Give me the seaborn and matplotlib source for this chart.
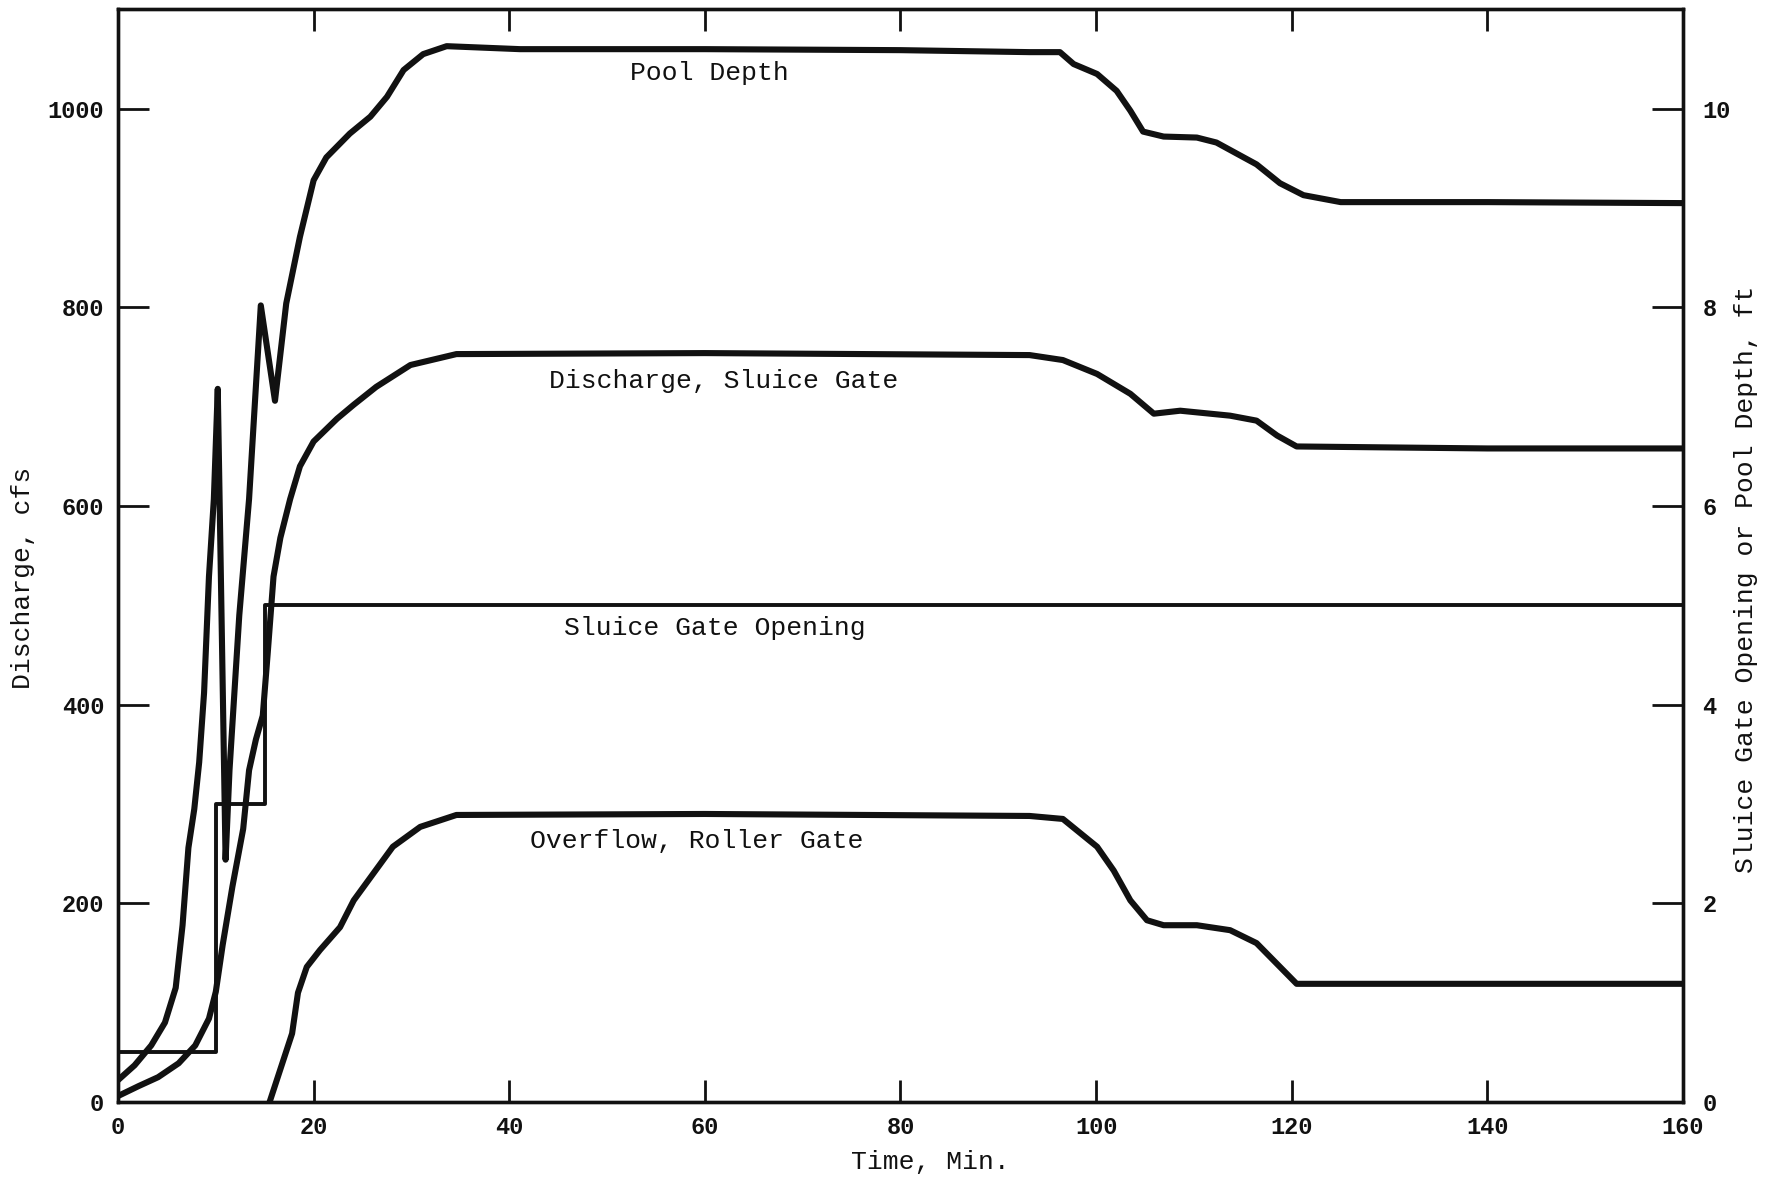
import matplotlib
matplotlib.use("Agg")
import matplotlib.pyplot as plt
import seaborn as sns
import pandas as pd

# ---- data ----
# Pool depth, ft (right axis)
pool_t = [0, 1.7, 3.4, 4.8, 5.9, 6.6, 7.2, 7.8, 8.3, 8.8, 9.3, 9.8, 10.2, 11.0, 11.4,
          12.4, 13.4, 14.6, 16.05, 17.2, 18.6, 20.0, 21.3, 23.7, 25.8, 27.5, 29.2, 31.2,
          33.6, 41.1, 60, 80, 93.2, 96.3, 97.7, 100.1, 102.1, 103.5, 104.8, 106.9, 110.3,
          112.3, 116.4, 118.8, 121.2, 125, 140, 160]
pool_ft = [0.22, 0.37, 0.57, 0.80, 1.15, 1.78, 2.56, 2.95, 3.42, 4.12, 5.29, 6.07, 7.18, 2.44, 3.34,
           4.90, 6.07, 8.02, 7.06, 8.04, 8.71, 9.28, 9.51, 9.75, 9.92, 10.12, 10.39, 10.55,
           10.63, 10.60, 10.60, 10.59, 10.57, 10.57, 10.45, 10.35, 10.18, 9.98, 9.77, 9.72, 9.71,
           9.66, 9.44, 9.25, 9.13, 9.06, 9.06, 9.05]

# Discharge through sluice gate, cfs (left axis)
sluice_t = [0, 2.1, 4.1, 6.2, 7.9, 9.3, 10.0, 10.7, 11.7, 12.8, 13.4, 14.1, 14.8, 15.3,
            15.9, 16.6, 17.6, 18.6, 20.0, 22.4, 24.1, 26.4, 29.9, 34.6, 60, 93.2, 96.6,
            100.1, 103.5, 105.9, 108.6, 113.7, 116.4, 118.5, 120.5, 140, 160]
sluice_q = [6, 16, 25, 39, 57, 84, 111, 158, 217, 275, 334, 365, 389, 451,
            529, 568, 607, 640, 665, 688, 702, 720, 742, 753, 754, 752, 747,
            733, 713, 693, 696, 691, 686, 671, 660, 658, 658]

# Sluice gate opening, ft (right axis)
gate_t = [0, 10, 10, 15, 15, 160]
gate_ft = [0.5, 0.5, 3.0, 3.0, 5.0, 5.0]

# Overflow over roller gate, cfs (left axis)
over_t = [15.5, 16.9, 17.8, 18.4, 19.3, 20.65, 22.7, 24.1, 26.1, 28.1, 30.9, 34.6, 60,
          93.2, 96.6, 100.1, 101.8, 103.5, 105.2, 106.9, 110.3, 113.7, 116.4, 118.1,
          120.5, 140, 160]
over_q = [0, 42, 69, 110, 136, 153, 176, 203, 230, 257, 277, 289, 290,
          288, 285, 257, 233, 203, 183, 178, 178, 173, 160, 143,
          119, 119, 119]

labels = ["Pool Depth", "Discharge, Sluice Gate", "Sluice Gate Opening", "Overflow, Roller Gate"]
label_pos = [(60.5, 1036), (61.9, 726), (61.0, 477), (59.2, 263)]

x_ticks = [0, 20, 40, 60, 80, 100, 120, 140, 160]
left_ticks = [0, 200, 400, 600, 800, 1000]
right_ticks = [0, 2, 4, 6, 8, 10]

# ---- style ----
sns.set_style("ticks")
plt.rcParams["font.family"] = ["Liberation Mono", "DejaVu Sans Mono"]

fig = plt.figure(figsize=(17.77, 11.78), dpi=100)
ax = fig.add_axes([0.0664, 0.0645, 0.8807, 0.9275])
ax2 = ax.twinx()

ink = "#111111"
df_pool = pd.DataFrame({"t": pool_t, "v": pool_ft})
df_sluice = pd.DataFrame({"t": sluice_t, "v": sluice_q})
df_gate = pd.DataFrame({"t": gate_t, "v": gate_ft})
df_over = pd.DataFrame({"t": over_t, "v": over_q})

kw = dict(sort=False, estimator=None, solid_joinstyle="round", solid_capstyle="round")
sns.lineplot(data=df_sluice, x="t", y="v", ax=ax, color=ink, lw=4.4, **kw)
sns.lineplot(data=df_over, x="t", y="v", ax=ax, color=ink, lw=4.4, **kw)
sns.lineplot(data=df_pool, x="t", y="v", ax=ax2, color=ink, lw=4.4, **kw)
sns.lineplot(data=df_gate, x="t", y="v", ax=ax2, color=ink, lw=2.8, sort=False, estimator=None)

ax.set_xlim(0, 160)
ax.set_ylim(0, 1100)
ax2.set_ylim(0, 11)

ax.set_xticks(x_ticks)
ax.set_yticks(left_ticks)
ax2.set_yticks(right_ticks)
ax.set_xticklabels([str(v) for v in x_ticks], fontweight="bold")
ax.set_yticklabels([str(v) for v in left_ticks], fontweight="bold")
ax2.set_yticklabels([str(v) for v in right_ticks], fontweight="bold")

ax.tick_params(axis="x", direction="in", top=True, length=16, width=2, labelsize=17, pad=10, colors=ink)
ax.tick_params(axis="y", direction="in", length=22, width=2, labelsize=17, pad=10, colors=ink)
ax2.tick_params(axis="y", direction="in", length=22, width=2, labelsize=17, pad=14, colors=ink)

for a in (ax, ax2):
    for s in a.spines.values():
        s.set_linewidth(2.4)
        s.set_color(ink)

ax.set_xlabel("Time, Min.", fontsize=19, color=ink)
ax.set_ylabel("Discharge, cfs", fontsize=19, color=ink)
ax2.set_ylabel("Sluice Gate Opening or Pool Depth, ft", fontsize=19, color=ink)
ax.xaxis.set_label_coords(0.519, -0.055)
ax.yaxis.set_label_coords(-0.061, 0.48)
ax2.yaxis.set_label_coords(1.040, 0.478)
ax.xaxis.label.set_va("center")
ax.yaxis.label.set_va("center")
ax2.yaxis.label.set_va("center")

for txt, (tx, ty) in zip(labels, label_pos):
    ax.text(tx, ty, txt, ha="center", va="center", fontsize=19, color=ink)

fig.savefig("out.png", dpi=100, facecolor="white")
